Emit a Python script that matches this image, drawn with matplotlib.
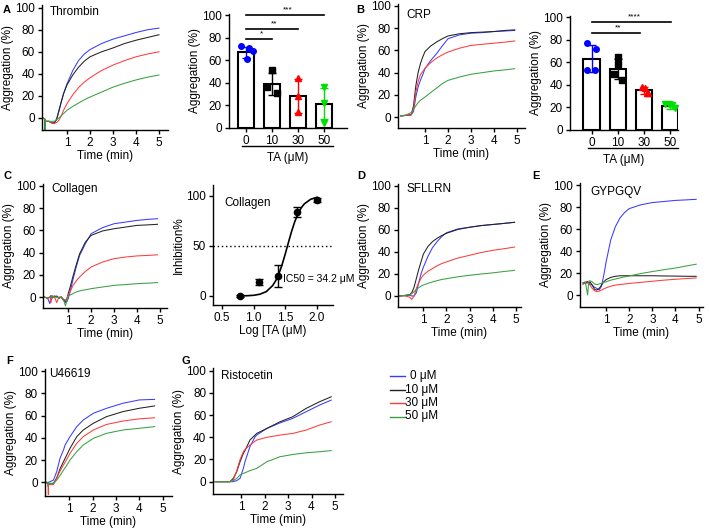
import matplotlib
matplotlib.use("Agg")
import matplotlib.pyplot as plt
from matplotlib.lines import Line2D
from matplotlib.transforms import blended_transform_factory
import numpy as np

plt.rcParams['font.family'] = ['Liberation Sans', 'DejaVu Sans']
plt.rcParams['font.size'] = 8

# ---------------- DATA ----------------
conc_labels = ["0 \u03bcM", "10 \u03bcM", "30 \u03bcM", "50 \u03bcM"]
ta_ticks = ["0", "10", "30", "50"]

# Panel A - Thrombin traces
thr_t = [-0.05, 0.04, 0.05, 0.06, 0.2, 0.35, 0.45, 0.55, 0.65, 0.75, 0.85, 1.0, 1.25, 1.5, 1.75, 2.0, 2.5, 3.0, 3.5, 4.0, 4.5, 5.0]
thr_0 = [0, -1, -10, -3, -3, -4.5, -4.5, -1, 6, 14, 22, 31, 43, 52, 58, 62, 67.5, 71.5, 74.5, 77.5, 80, 81.5]
thr_10 = [0, -1, -12, -3, -3, -4.5, -4.5, -1, 7, 15, 22, 30, 39, 46, 51.5, 55.5, 60, 63.5, 67.5, 70.5, 73, 75.5]
thr_30 = [0, -1, -3, -3, -3, -4.5, -5, -4, -2, 2, 7, 13, 21, 27.5, 32.5, 36.5, 43, 48, 52, 55.5, 58, 60]
thr_50 = [0, -1, -11, -3, -3, -3, -3, -1.5, 0, 2, 4, 7, 10.5, 13.5, 16.5, 19, 23.5, 28, 31.5, 34.5, 37, 39]

# Panel A - Thrombin bar chart
thr_bar_mean = [67, 39, 28.5, 21.5]
thr_bar_sd = [5, 9.5, 15, 13.5]
thr_pts_0 = [72.5, 71, 68, 61]
thr_pts_10 = [51, 36, 31]
thr_pts_30 = [44, 28, 14]
thr_pts_50 = [36, 22, 4]
thr_sig = [("*", 0, 1, 79), ("**", 0, 2, 88), ("***", 0, 3, 100)]

# Panel B - CRP traces
crp_t = [-0.05, 0.2, 0.4, 0.5, 0.6, 0.7, 0.8, 0.9, 1.0, 1.25, 1.5, 1.75, 2.0, 2.5, 3.0, 3.5, 4.0, 4.5, 4.9]
crp_0 = [1, 1.5, 2, 5, 18, 27, 33, 38, 43.5, 51, 57, 64, 70.5, 74, 75.5, 76, 77, 77.5, 78]
crp_10 = [1, 1.5, 2, 10, 28, 40, 48, 54, 59, 64, 67.5, 70.5, 73, 75, 76, 76.5, 77, 78, 78.5]
crp_30 = [1, 1.5, 2, 7, 22, 32, 38, 41, 44, 49, 53, 56, 58.5, 62, 64.5, 65.5, 66.5, 67.5, 68.5]
crp_50 = [1, 2, 4, 7, 10, 13, 15, 16.5, 18, 22, 26, 30, 33, 36, 38.5, 40, 41.5, 42.5, 43.5]

# Panel B - CRP bar chart
crp_bar_mean = [63, 54, 35, 21]
crp_bar_sd = [12, 9, 3, 2]
crp_pts_0 = [77, 72, 53, 53]
crp_pts_10 = [64.5, 58.5, 50, 44]
crp_pts_30 = [38, 37, 33, 32.5]
crp_pts_50 = [23, 23, 22, 19.5]
crp_sig = [("**", 0, 1.85, 86), ("****", 0, 3.05, 96)]

# Panel C - Collagen traces
col_t = [-0.05, 0.1, 0.2, 0.25, 0.3, 0.4, 0.5, 0.6, 0.7, 0.8, 0.88, 0.95, 1.0, 1.1, 1.2, 1.35, 1.5, 1.75, 2.0, 2.5, 3.0, 3.5, 4.0, 4.5, 4.9]
col_0 = [0, -1, -6, 1, 1, 0, 1, -1, 0, -3, -5, -4, -1.5, 6, 15, 27, 37.5, 48, 57, 62.5, 66, 67.5, 69, 70, 70.5]
col_10 = [0, -1, 0, 1, -1, 1, 0, -1, 0, -3, -4, -1, 3, 10, 18, 29, 39, 49.5, 55.5, 59.5, 61.5, 63, 64.5, 65, 65.5]
col_30 = [0, -1, 0, -5, 1, 0, -5, 0, 0, -2, -3, -1, 1.5, 5.5, 10, 14.5, 18, 23, 27, 31.5, 34.5, 36, 37, 37.5, 38]
col_50 = [0, -1, 0, 1, 0, 0, 0, -1, 0, -3, -8, -3, 1, 2, 3, 4.5, 5.5, 6.5, 7.5, 9, 10.5, 11.2, 12, 12.5, 13]

# Panel C - Collagen inhibition (dose response)
ic_logx = [0.78, 1.08, 1.38, 1.68, 2.0]
ic_inh = [0, 14, 20, 84, 96]
ic_err = [1, 3, 11, 5, 2]
ic_fit_x = [0.78, 0.9, 1.0, 1.1, 1.2, 1.3, 1.35, 1.4, 1.45, 1.5, 1.55, 1.6, 1.65, 1.7, 1.75, 1.8, 1.9, 2.0]
ic_fit_y = [0.1, 0.3, 0.7, 1.8, 4.4, 10.4, 15.5, 22.5, 31.5, 42.2, 53.7, 64.7, 74.4, 82.2, 88, 92.1, 96.7, 98.7]
ic_text = "IC50 = 34.2 \u03bcM"

# Panel D - SFLLRN traces
sfl_t = [-0.05, 0.2, 0.4, 0.5, 0.6, 0.7, 0.8, 0.9, 1.0, 1.2, 1.4, 1.6, 1.8, 2.0, 2.5, 3.0, 3.5, 4.0, 4.5, 4.95]
sfl_0 = [0, 0.5, 1, 0, 0, 3, 12, 20, 26, 36, 44, 49.5, 54, 57.5, 61, 62.5, 64, 65, 66, 67]
sfl_10 = [0, 0.5, 1, 3, 8, 16, 24, 31, 38, 45, 49.5, 52.5, 55, 57, 60.5, 62.5, 64, 65, 66, 67]
sfl_30 = [0, 0, -1, -3, 0, 7, 12, 16, 19, 22.5, 25, 27.5, 29.5, 31, 34.5, 37, 39.5, 41.5, 43, 44.5]
sfl_50 = [0, 0.5, 1, 2, 4, 6, 7.5, 9, 10, 11.5, 12.8, 14, 15, 15.7, 17.5, 18.8, 20, 21, 22.3, 23.3]

# Panel E - GYPGQV traces
gyp_t = [0, 0.1, 0.2, 0.25, 0.3, 0.4, 0.5, 0.6, 0.7, 0.8, 0.9, 1.0, 1.2, 1.4, 1.6, 1.8, 2.0, 2.5, 3.0, 3.5, 4.0, 4.5, 4.9]
gyp_0 = [10, 11, 12, 11, 10, 9, 7, 6, 4.5, 8, 18, 30, 50, 62, 70, 75, 78.5, 82, 84, 85, 86, 86.5, 87]
gyp_10 = [11, 11.5, 12, 11, 12, 9, 5, 4.5, 6, 9, 12, 14, 16, 17, 17.5, 17.5, 17.5, 17.5, 17.5, 17.3, 17.2, 17, 17]
gyp_30 = [10, 10.5, 11, 10, 9, 6, 4, 3, 3.5, 4.5, 5.5, 6.5, 8, 9, 9.5, 10, 10.5, 11.5, 12.5, 13.5, 14.3, 15, 15.5]
gyp_50 = [11, 12, 0, 12.5, 13, 12, 10, 9.5, 10, 10.5, 11.5, 12, 13.5, 14.5, 15.5, 16.5, 17.3, 19.5, 21.3, 23, 24.5, 26.5, 28]

# Panel F - U46619 traces
u46_t = [0, 0.09, 0.1, 0.11, 0.32, 0.46, 0.6, 0.75, 0.82, 1.03, 1.32, 1.6, 2.03, 2.6, 3.3, 4.0, 4.66]
u46_0 = [0, 0, 0, 0, 2, 9.6, 21.5, 29, 33.5, 41, 50, 56, 62, 66.5, 71, 74, 74.5]
u46_10 = [0, -1, -4, -1, -1, 4, 12, 18.5, 21.5, 30.5, 41, 47, 53, 59, 63.5, 66.5, 68.6]
u46_30 = [0, -2, -11, -2, -2, 3.6, 10, 15.6, 18, 26, 35, 41, 47, 52, 55, 57, 58]
u46_50 = [0, -1, -3, -1, -1, 2, 6, 11, 13, 20, 27.5, 33.5, 39.5, 44, 47, 48.5, 50]

# Panel G - Ristocetin traces
ris_t = [-0.1, 0.53, 0.67, 0.82, 0.96, 1.1, 1.17, 1.38, 1.6, 1.67, 2.1, 2.66, 3.2, 3.77, 4.34, 4.84]
ris_0 = [0, 0, 0, 1, 3, 12, 18, 31.5, 40.5, 42, 48, 53, 57, 63, 69, 73.5]
ris_10 = [0, 0, 3, 9, 18, 25.5, 28, 37.5, 42, 43.5, 48, 54, 58.5, 66, 72, 76.5]
ris_30 = [0, 0, 1.5, 10, 20, 27, 29, 33, 36.5, 37.5, 40, 42, 43.5, 46.5, 51, 54]
ris_50 = [0, 0, 1, 3, 6, 7.5, 8, 10, 11.5, 12, 18, 22.5, 24.5, 26, 27, 28]

# ---------------- STYLE ----------------
W, H = 709, 528
col_trace = ['#3a3aff', '#222222', '#ff3b3b', '#3aa040']
col_pts = ['#0000ff', '#000000', '#ff0000', '#00e000']
markers = ['o', 's', '^', 'v']

fig = plt.figure(figsize=(W / 100, H / 100), dpi=100)


def style_ax(ax):
    for s in ['top', 'right']:
        ax.spines[s].set_visible(False)
    for s in ['left', 'bottom']:
        ax.spines[s].set_linewidth(1.0)
    ax.tick_params(direction='out', length=3, width=1, pad=2, labelsize=8.5)


def trace_ax(l, x0, sx, r, y0, sy, b, top=102):
    t = y0 - top * sy
    ax = fig.add_axes([l / W, 1 - b / H, (r - l) / W, (b - t) / H])
    ax.set_xlim((l - x0) / sx, (r - x0) / sx)
    ax.set_ylim((y0 - b) / sy, top)
    style_ax(ax)
    ax.set_xticks([1, 2, 3, 4, 5])
    ax.set_yticks([0, 20, 40, 60, 80, 100])
    ax.set_xlabel("Time (min)", fontsize=8.5, labelpad=1)
    ax.set_ylabel("Aggregation (%)", fontsize=8.5, labelpad=1)
    return ax


def draw_traces(ax, t, series, title, tx, ty):
    for s, c in zip(series, col_trace):
        ax.plot(t, s, color=c, lw=0.75)
    ax.text(tx, ty, title, ha='left', va='center', fontsize=8.5)


def bar_ax(l, r, y0, sy, c0, step, means, sds, pts, offs, sig):
    top = 101
    t = y0 - top * sy
    ax = fig.add_axes([l / W, 1 - y0 / H, (r - l) / W, (y0 - t) / H])
    ax.set_xlim((l - c0) / step, (r - c0) / step)
    ax.set_ylim(0, top)
    style_ax(ax)
    x = np.arange(len(means))
    ax.bar(x, means, width=0.62, color='white', edgecolor='black', linewidth=1.5, zorder=2)
    for i in range(len(means)):
        ax.errorbar(x[i], means[i], yerr=sds[i], color=col_pts[i], capsize=3, lw=1, capthick=1, zorder=3)
        ax.plot(x[i] + np.array(offs[i]), pts[i], ls='none', marker=markers[i],
                color=col_pts[i], ms=4, zorder=4, clip_on=False)
    ax.set_xticks(x)
    ax.set_xticklabels(ta_ticks)
    ax.set_yticks([0, 20, 40, 60, 80, 100])
    ax.set_ylabel("Aggregation (%)", fontsize=8.5, labelpad=1)
    ax.set_xlabel("TA (\u03bcM)", fontsize=8.5, labelpad=3.5)
    for lab, xa, xb, yv in sig:
        ax.plot([xa, xb], [yv, yv], color='black', lw=1.2, clip_on=False)
        ax.text((xa + xb) / 2 + 0.1, yv + 1, lab, ha='center', va='bottom', fontsize=6)
    trans = blended_transform_factory(ax.transData, ax.transAxes)
    return ax, trans


# A traces
axA = trace_ax(42, 44, 23, 168, 118, 1.103, 130)
draw_traces(axA, thr_t, [thr_0, thr_10, thr_30, thr_50], "Thrombin", 0.25, 96)

# A bars
axAb, trA = bar_ax(229, 347, 128, 1.13, 246, 26, thr_bar_mean, thr_bar_sd,
                   [thr_pts_0, thr_pts_10, thr_pts_30, thr_pts_50],
                   [[-0.2, 0.13, 0.25, 0.04], [0.0, -0.18, 0.18], [0, 0, 0], [0, 0, 0]],
                   thr_sig)
axAb.plot([-0.15, 3.35], [-0.16, -0.16], color='black', lw=1, transform=trA, clip_on=False)

# B traces
axB = trace_ax(398, 402, 23, 525, 117, 1.11, 128)
draw_traces(axB, crp_t, [crp_0, crp_10, crp_30, crp_50], "CRP", 0.2, 92)

# B bars
axBb, trB = bar_ax(570, 678, 130, 1.13, 591.5, 26.2, crp_bar_mean, crp_bar_sd,
                   [crp_pts_0, crp_pts_10, crp_pts_30, crp_pts_50],
                   [[-0.16, 0.17, -0.18, 0.14], [0, 0, -0.13, 0.15], [-0.09, 0.04, 0.1, 0.17], [-0.19, -0.06, 0.06, 0.19]],
                   crp_sig)
axBb.plot([-0.13, 3.3], [-0.16, -0.16], color='black', lw=1, transform=trB, clip_on=False)

# C traces
axC = trace_ax(43, 45.3, 22.9, 167, 297, 1.11, 308)
draw_traces(axC, col_t, [col_0, col_10, col_30, col_50], "Collagen", 0.28, 97)

# C dose response
l, r, y0, sy, b = 213, 333, 296, 1.0, 305
top = 111
t = y0 - top * sy
axCd = fig.add_axes([l / W, 1 - b / H, (r - l) / W, (b - t) / H])
axCd.set_xlim(0.5 + (l - 222) / 63.3, 0.5 + (r - 222) / 63.3)
axCd.set_ylim((y0 - b) / sy, top)
style_ax(axCd)
axCd.plot(ic_fit_x, ic_fit_y, color='black', lw=1.2)
axCd.errorbar(ic_logx, ic_inh, yerr=ic_err, fmt='o', color='black', ms=4.5, capsize=3, lw=1)
axCd.axhline(50, color='black', ls=(0, (1, 2)), lw=1)
axCd.set_xticks([0.5, 1.0, 1.5, 2.0])
axCd.set_xticklabels(["0.5", "1.0", "1.5", "2.0"])
axCd.set_yticks([0, 50, 100])
axCd.set_xlabel("Log [TA (\u03bcM)", fontsize=8.5, labelpad=1)
axCd.set_ylabel("Inhibition%", fontsize=8.5, labelpad=1)
axCd.text(0.53, 93, "Collagen", ha='left', va='center', fontsize=8.5)
axCd.text(1.47, 17, ic_text, ha='left', va='center', fontsize=7.5)

# D traces
axD = trace_ax(398, 400.2, 23.1, 521, 296, 1.1, 307)
draw_traces(axD, sfl_t, [sfl_0, sfl_10, sfl_30, sfl_50], "SFLLRN", 0.28, 97)

# E traces
axE = trace_ax(580, 583, 23.1, 703, 295, 1.1, 307)
draw_traces(axE, gyp_t, [gyp_0, gyp_10, gyp_30, gyp_50], "GYPGQV", 0.3, 94)

# F traces
axF = trace_ax(45, 46, 23.3, 172, 482.3, 1.113, 496)
draw_traces(axF, u46_t, [u46_0, u46_10, u46_30, u46_50], "U46619", 0.13, 97)

# G traces
axG = trace_ax(213.3, 217.5, 23.5, 343, 481.7, 1.11, 494)
draw_traces(axG, ris_t, [ris_0, ris_10, ris_30, ris_50], "Ristocetin", 0.14, 95)

# Legend (manual)
for i, (lab, c) in enumerate(zip(conc_labels, col_trace)):
    yy = 376 + i * 13.5
    fig.add_artist(Line2D([390 / W, 405 / W], [1 - yy / H, 1 - yy / H], color=c, lw=1))
    xt = 405 if i > 0 else 410
    fig.text(xt / W, 1 - yy / H, lab, ha='left', va='center', fontsize=8.5)

# Panel letters
for lab, x, y in [("A", 3, 10), ("B", 356, 10), ("C", 3, 176), ("D", 357, 176),
                  ("E", 532, 176), ("F", 6, 361), ("G", 181, 361)]:
    fig.text(x / W, 1 - y / H, lab, fontsize=8, fontweight='bold', ha='left', va='center')

fig.savefig("out.png", dpi=100)
